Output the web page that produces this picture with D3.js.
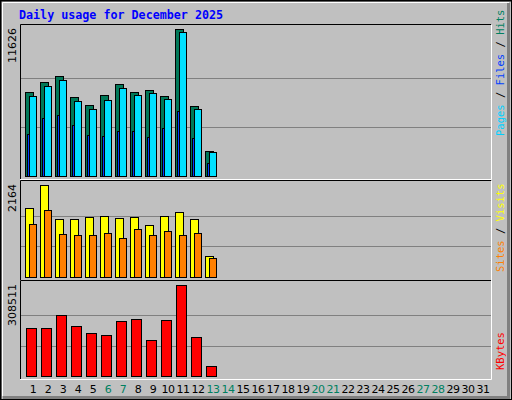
<!DOCTYPE html>
<html><head><meta charset="utf-8">
<script src="https://cdn.jsdelivr.net/npm/d3@7"></script>
<style>body{margin:0;background:#fff}svg{display:block}</style>
</head><body>
<svg id="c" width="512" height="400"></svg>
<script>
var days = d3.range(1, 32)
var weekend = [6, 7, 13, 14, 20, 21, 27, 28]
var hits   = [6650, 7440, 7915, 6260, 5625, 6415, 7285, 6650, 6810, 6340, 11626, 5550, 1997]
var files  = [6337, 7125, 7600, 5942, 5311, 6021, 6968, 6416, 6574, 6100, 11387, 5311, 1917]
var pages  = [3338, 4600, 4837, 4048, 3259, 3180, 3575, 3575, 3100, 3811, 5153, 3022, 1050]
var visits = [1625, 2164, 1367, 1367, 1414, 1437, 1390, 1414, 1226, 1437, 1531, 1367, 500]
var sites  = [1250, 1578, 1016, 992, 992, 1039, 922, 1133, 992, 1086, 992, 1039, 453]
var kbytes = [163200, 163200, 207150, 170000, 146300, 139550, 186850, 193600, 122650, 190250, 308511, 132800, 34800]

var svg = d3.select('#c')
var x = d3.scaleLinear().domain([1, 31]).range([25, 475])

// frame
svg.append('rect').attr('x', 0).attr('y', 0).attr('width', 512).attr('height', 400).attr('fill', '#c0c0c0')
svg.append('path').attr('d', 'M1,399V1H511').attr('stroke', '#000').attr('fill', 'none')
svg.append('path').attr('d', 'M2.5,396V2.5H509').attr('stroke', '#fff').attr('fill', 'none')
svg.append('path').attr('d', 'M3,397.5H508.5V3').attr('stroke', '#808080').attr('stroke-width', 3).attr('fill', 'none')
svg.append('rect').attr('x', 0.5).attr('y', 0.5).attr('width', 511).attr('height', 399).attr('stroke', '#000').attr('fill', 'none')

svg.append('text').attr('x', 19).attr('y', 19).text('Daily usage for December 2025')
	.attr('font-family', 'DejaVu Sans Mono').attr('font-weight', 'bold').attr('font-size', 11.7).attr('fill', '#0000ff')

var panels = [
	{top: 25, bottom: 176, max: 11626},
	{top: 181, bottom: 277, max: 2164},
	{top: 281, bottom: 376, max: 308511}
]
panels.forEach(function(p){
	p.y = d3.scaleLinear().domain([0, p.max]).range([p.bottom, p.top + 4])
	svg.append('path').attr('d', 'M20.5,' + (p.bottom + 3) + 'V' + (p.top - 0.5) + 'H491')
		.attr('stroke', '#000').attr('fill', 'none')
	svg.append('path').attr('d', 'M20,' + (p.bottom + 3.5) + 'H491.5V' + p.top)
		.attr('stroke', '#fff').attr('fill', 'none')
	;[1 / 3, 2 / 3].forEach(function(f){
		var gy = Math.round(p.y(p.max * f)) + 0.5
		svg.append('line').attr('x1', 21).attr('x2', 491).attr('y1', gy).attr('y2', gy).attr('stroke', '#808080')
	})
	var ty = p.top + 3
	svg.append('text').attr('transform', 'translate(16,' + ty + ') rotate(-90)')
		.attr('text-anchor', 'end').attr('font-family', 'DejaVu Sans').attr('font-size', 11).text(p.max)
})

function bars(panel, data, dx, w, color){
	svg.append('g').selectAll('rect').data(data).enter().append('rect')
		.attr('x', function(d, i){ return x(i + 1) + dx + 0.5 })
		.attr('y', function(d){ return Math.round(panel.y(d)) + 0.5 })
		.attr('width', w)
		.attr('height', function(d){ return panel.bottom - Math.round(panel.y(d)) })
		.attr('fill', color).attr('stroke', '#000')
}
bars(panels[0], hits, 0, 8, '#007858')
bars(panels[0], pages, 2, 2, '#0040ff')
bars(panels[0], files, 4, 7, '#00e0ff')
bars(panels[1], visits, 0, 8, '#ffff00')
bars(panels[1], sites, 4, 7, '#ff8000')
bars(panels[2], kbytes, 1, 10, '#ff0000')

svg.append('g').selectAll('text').data(days).enter().append('text')
	.attr('x', function(d){ return x(d) + 8 }).attr('y', 393)
	.attr('text-anchor', 'middle').attr('font-family', 'DejaVu Sans').attr('font-size', 11)
	.attr('letter-spacing', -0.5)
	.attr('fill', function(d){ return weekend.indexOf(d) >= 0 ? '#008060' : '#000' })
	.text(function(d){ return d })

function legend(yb, parts){
	var t = svg.append('text').attr('transform', 'translate(504,' + yb + ') rotate(-90)')
		.attr('font-family', 'DejaVu Sans Mono').attr('font-size', 10.5)
	parts.forEach(function(p){ t.append('tspan').attr('fill', p[1]).text(p[0]) })
}
legend(136, [['Pages', '#00d0ff'], [' / ', '#000'], ['Files', '#0040ff'], [' / ', '#000'], ['Hits', '#008060']])
legend(272, [['Sites', '#ff8000'], [' / ', '#000'], ['Visits', '#ffff00']])
legend(370, [['KBytes', '#ff0000']])
</script>
</body></html>
